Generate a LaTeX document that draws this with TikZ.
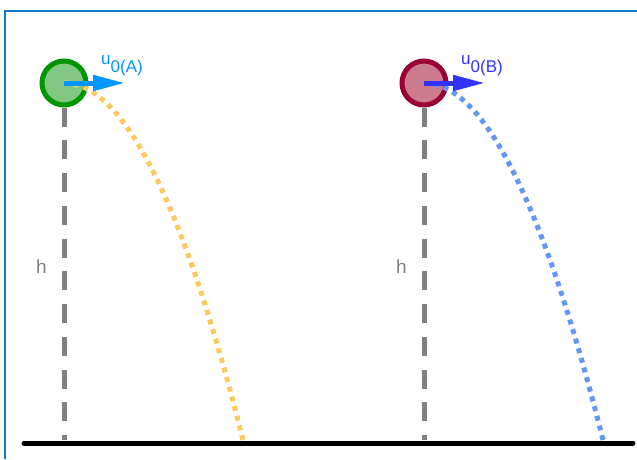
\documentclass[tikz,border=0pt]{standalone}
\usepackage{fontspec}
\setmainfont{Liberation Sans}
\usetikzlibrary{arrows.meta}

\definecolor{frameblue}{RGB}{20,120,210}
\definecolor{ballAline}{RGB}{0,150,0}
\definecolor{ballAfill}{RGB}{130,200,130}
\definecolor{ballBline}{RGB}{153,0,51}
\definecolor{ballBfill}{RGB}{204,122,143}
\definecolor{velA}{RGB}{0,150,255}
\definecolor{velB}{RGB}{51,51,255}
\definecolor{pathA}{RGB}{255,200,92}
\definecolor{pathB}{RGB}{100,150,245}
\definecolor{hgray}{RGB}{128,128,128}

\newcommand{\vel}[1]{u\raisebox{-8.5pt}{0(#1)}}

\begin{document}
\begin{tikzpicture}[
            x=1pt, y=-1pt,
            ball/.style={circle, minimum size=44pt, inner sep=0pt, line width=5pt},
            height/.style={draw=hgray, line width=5pt, dash pattern=on 19pt off 13.75pt},
            flight/.style={line width=5pt, dash pattern=on 5pt off 5pt},
            velocity/.style={line width=5pt, -{Triangle[length=32pt, width=15pt]}},
            lbl/.style={inner sep=0pt, anchor=base west, font=\fontsize{17}{17}\selectfont}
        ]
            \useasboundingbox (0,0) rectangle (637,459);
            \draw[frameblue, line width=2.5pt] (5,459) -- (5,11) -- (637,11);

            % ground
            \coordinate (groundL) at (24,443);
            \coordinate (groundR) at (633,443);
            \coordinate (footA) at (64,440);
            \coordinate (footB) at (424,440);
            \coordinate (landA) at (243,440);
            \coordinate (landB) at (603,440);

            % ball A
            \node[ball] (A) at (64,83) {};
            \draw[height] (A.south) -- (footA);
            \node[ball, draw=ballAline, fill=ballAfill] at (A) {};
            \draw[flight, pathA] (A.center) .. controls (123.7,83) and (183.3,202) .. (landA);
            \coordinate (tipA) at (125,83);
            \draw[velocity, velA] (A.center) -- (tipA);
            \node[lbl, velA] (uA) at (101,64) {\vel{A}};
            \node[lbl, hgray, font=\fontsize{19}{19}\selectfont] (hA) at (36,273) {h};

            % ball B
            \node[ball] (B) at (424,83) {};
            \draw[height] (B.south) -- (footB);
            \node[ball, draw=ballBline, fill=ballBfill] at (B) {};
            \draw[flight, pathB] (B.center) .. controls (483.7,83) and (543.3,202) .. (landB);
            \coordinate (tipB) at (485,83);
            \draw[velocity, velB] (B.center) -- (tipB);
            \node[lbl, velB] (uB) at (461,64) {\vel{B}};
            \node[lbl, hgray, font=\fontsize{19}{19}\selectfont] (hB) at (396,273) {h};

            \draw[line width=5pt, line cap=round] (groundL) -- (groundR);
        \end{tikzpicture}
\end{document}
